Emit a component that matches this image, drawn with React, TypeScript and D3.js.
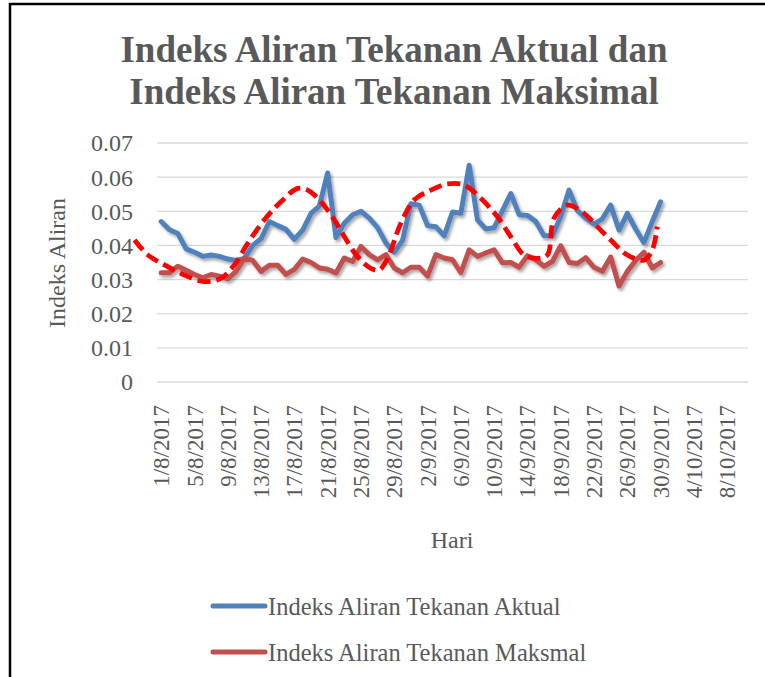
import React from "react";
import * as d3 from "d3";

const tickLabels = [
  "1/8/2017", "5/8/2017", "9/8/2017", "13/8/2017", "17/8/2017", "21/8/2017",
  "25/8/2017", "29/8/2017", "2/9/2017", "6/9/2017", "10/9/2017", "14/9/2017",
  "18/9/2017", "22/9/2017", "26/9/2017", "30/9/2017", "4/10/2017", "8/10/2017",
];
const tickDays = [0, 4, 8, 12, 16, 20, 24, 28, 32, 36, 40, 44, 48, 52, 56, 60, 64, 68];
const yTicks = [0, 0.01, 0.02, 0.03, 0.04, 0.05, 0.06, 0.07];
const yTickLabels = ["0", "0.01", "0.02", "0.03", "0.04", "0.05", "0.06", "0.07"];

// daily values, 1/8/2017 .. 30/9/2017
const aktual = [
  0.047, 0.0446, 0.0435, 0.039, 0.038, 0.0368, 0.0372, 0.0368, 0.036, 0.0356,
  0.0362, 0.040, 0.042, 0.047, 0.0458, 0.0447, 0.0418, 0.0445, 0.0494, 0.0515,
  0.0612, 0.0423, 0.0465, 0.049, 0.050, 0.048, 0.0452, 0.0407, 0.038, 0.0415,
  0.0522, 0.0518, 0.0458, 0.0455, 0.0428, 0.0498, 0.0494, 0.0635, 0.0475, 0.0448,
  0.0452, 0.0502, 0.0552, 0.049, 0.0488, 0.047, 0.0428, 0.0428, 0.0485, 0.0562,
  0.0502, 0.048, 0.0462, 0.0478, 0.0518, 0.0445, 0.0494, 0.0448, 0.0408, 0.047,
  0.0528,
];
const maksimal = [
  0.032, 0.032, 0.0339, 0.0327, 0.0315, 0.0305, 0.0315, 0.031, 0.0302, 0.0324,
  0.0363, 0.0356, 0.0324, 0.0342, 0.0342, 0.0315, 0.033, 0.036, 0.035, 0.0334,
  0.033, 0.0319, 0.0363, 0.0353, 0.0397, 0.0373, 0.0358, 0.0373, 0.0334, 0.032,
  0.0336, 0.0336, 0.031, 0.0373, 0.0363, 0.0358, 0.032, 0.0387, 0.0368, 0.0378,
  0.0387, 0.0349, 0.035, 0.0336, 0.037, 0.0358, 0.0339, 0.0353, 0.0399, 0.035,
  0.0347, 0.0364, 0.0336, 0.0324, 0.0366, 0.0281, 0.0324, 0.0356, 0.038, 0.0334,
  0.035,
];
// dashed red curve (day offset from 1/8/2017, value)
const trendDays = [
  -3.2, -1.6, 0.4, 2.4, 5.2, 7.2, 8.8, 10.4, 12.4, 14.4, 16.4, 17.6, 19.2, 20.8,
  22, 23.6, 25.2, 26.2, 27.2, 28.8, 30.4, 32.4, 34.4, 36.4, 38.4, 40.4, 42, 43.6,
  45.2, 46.4, 47.2, 48.8, 50.8, 52.4, 54, 56, 58, 59, 59.6,
];
const trendValues = [
  0.0416, 0.0372, 0.0343, 0.0318, 0.0294, 0.0304, 0.0343, 0.0406, 0.0475, 0.0528,
  0.0567, 0.0562, 0.0528, 0.0475, 0.0426, 0.0367, 0.0333, 0.0328, 0.0362, 0.0465,
  0.0533, 0.0562, 0.058, 0.0577, 0.0538, 0.0484, 0.0426, 0.0372, 0.0362, 0.0372,
  0.048, 0.0518, 0.0494, 0.0455, 0.0416, 0.0372, 0.0357, 0.0387, 0.0455,
];

const seriesNames = ["Indeks Aliran Tekanan Aktual", "Indeks Aliran Tekanan Maksmal"];
const colors = ["#4F81BD", "#C0504D"];

const W = 765;
const H = 677;
const FONT = '"Liberation Serif", "DejaVu Serif", serif';
const TXT = "#595959";
const tStyle = { fontFamily: FONT };

export default function App() {
  const x = d3.scaleLinear().domain([-0.5, 70.5]).range([157, 748]);
  const y = d3.scaleLinear().domain([0, 0.07]).range([382, 143]);

  const line = d3
    .line<number>()
    .x((_, i) => x(i))
    .y((d) => y(d));

  const trendPts: [number, number][] = trendDays.map((d, i) => [d, trendValues[i]]);
  const trendLine = d3
    .line<[number, number]>()
    .x((d) => x(d[0]))
    .y((d) => y(d[1]))
    .curve(d3.curveCatmullRom.alpha(0.5));

  return (
    <div style={{ position: "fixed", left: 0, top: 0 }}>
      <svg width={W} height={H} style={{ display: "block", background: "#fff", fontFamily: FONT }}>
        <defs>
          <filter id="sh" x="-10%" y="-10%" width="120%" height="130%">
            <feDropShadow dx="2" dy="2.5" stdDeviation="1.6" floodColor="#000" floodOpacity="0.35" />
          </filter>
        </defs>
        <rect x={0} y={0} width={W} height={H} fill="#fff" />
        {/* border */}
        <line x1={10} x2={W} y1={4} y2={4} stroke="#000" strokeWidth={2.5} />
        <line x1={10} x2={10} y1={3} y2={H} stroke="#000" strokeWidth={2.5} />

        {/* title */}
        <text x={394} y={62} textAnchor="middle" style={tStyle} fontWeight="bold" fontSize={37} fill={TXT}>
          Indeks Aliran Tekanan Aktual dan
        </text>
        <text x={394} y={104} textAnchor="middle" style={tStyle} fontWeight="bold" fontSize={37} fill={TXT}>
          Indeks Aliran Tekanan Maksimal
        </text>

        {/* gridlines */}
        {yTicks.map((t) => (
          <line key={t} x1={157} x2={748} y1={y(t)} y2={y(t)} stroke="#D9D9D9" strokeWidth={1.3} />
        ))}
        {yTicks.map((t, i) => (
          <text key={"l" + t} x={133} y={y(t)} dy="0.35em" textAnchor="end" style={tStyle} fontSize={24} fill={TXT}>
            {yTickLabels[i]}
          </text>
        ))}
        <text
          transform={`translate(65,263) rotate(-90)`}
          textAnchor="middle"
          style={tStyle}
          fontSize={24}
          fill={TXT}
        >
          Indeks Aliran
        </text>

        {/* x ticks */}
        {tickDays.map((d, i) => (
          <text
            key={tickLabels[i]}
            transform={`translate(${x(d)},405) rotate(-90)`}
            textAnchor="end"
            dy="0.35em"
            style={tStyle}
            fontSize={23}
            fill={TXT}
          >
            {tickLabels[i]}
          </text>
        ))}
        <text x={452} y={548} textAnchor="middle" style={tStyle} fontSize={24} fill={TXT}>
          Hari
        </text>

        {/* series */}
        <g filter="url(#sh)">
          <path d={line(aktual) || ""} fill="none" stroke={colors[0]} strokeWidth={5} strokeLinejoin="round" strokeLinecap="round" />
          <path d={line(maksimal) || ""} fill="none" stroke={colors[1]} strokeWidth={5} strokeLinejoin="round" strokeLinecap="round" />
        </g>
        <path d={trendLine(trendPts) || ""} fill="none" stroke="#FF0000" strokeWidth={4.8} strokeDasharray="13,6" />

        {/* legend */}
        {seriesNames.map((n, i) => (
          <g key={n}>
            <line x1={213} x2={265} y1={606 + i * 46} y2={606 + i * 46} stroke={colors[i]} strokeWidth={5} strokeLinecap="round" />
            <text x={268} y={606 + i * 46} dy="0.35em" style={tStyle} fontSize={24.5} fill={TXT}>
              {n}
            </text>
          </g>
        ))}
      </svg>
    </div>
  );
}
